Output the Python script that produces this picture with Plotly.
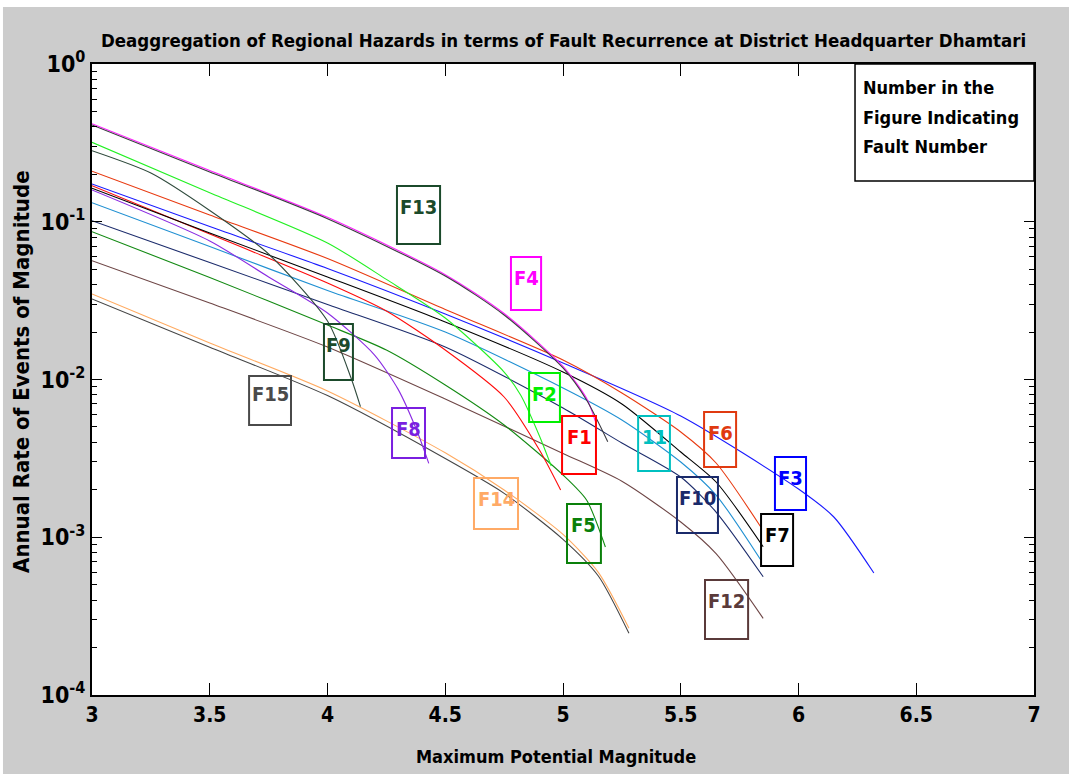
import plotly.graph_objects as go

# Magnitude samples (Mw) and annual rates of events for each fault
F1_M = [3.0, 3.5, 4.0, 4.25, 4.5, 4.75, 4.9, 4.99]
F1_R = [0.1693, 0.08361, 0.04089, 0.02718, 0.01538, 0.007746, 0.003573, 0.001993]

F2_M = [3.0, 3.5, 4.0, 4.25, 4.5, 4.75, 4.82, 4.9, 4.95]
F2_R = [0.3190, 0.1528, 0.07342, 0.04310, 0.02454, 0.01115, 0.00797, 0.004384, 0.002828]

F3_M = [3.0, 3.5, 4.0, 4.5, 5.0, 5.5, 6.0, 6.15, 6.32]
F3_R = [0.1734, 0.09317, 0.05055, 0.02602, 0.01273, 0.005869, 0.002022, 0.001344, 0.000593]

F4_M = [3.0, 3.5, 4.0, 4.5, 4.75, 5.0, 5.1, 5.14]
F4_R = [0.418, 0.2110, 0.1066, 0.0462, 0.0262, 0.0121, 0.0076, 0.0053]

F5_M = [3.0, 3.5, 4.0, 4.25, 4.5, 4.75, 5.0, 5.1, 5.18]
F5_R = [0.08648, 0.04432, 0.02215, 0.01538, 0.009228, 0.005148, 0.002481, 0.001722, 0.000867]

F6_M = [3.0, 3.5, 4.0, 4.5, 5.0, 5.25, 5.5, 5.65, 5.84]
F6_R = [0.2089, 0.1104, 0.05848, 0.02778, 0.01329, 0.008211, 0.004647, 0.002956, 0.001161]

F7_M = [3.0, 3.5, 4.0, 4.5, 5.0, 5.25, 5.5, 5.65, 5.85]
F7_R = [0.1630, 0.08484, 0.04466, 0.02315, 0.01115, 0.006993, 0.003470, 0.002240, 0.000871]

F8_M = [3.0, 3.5, 3.75, 4.0, 4.2, 4.3, 4.38, 4.43]
F8_R = [0.1590, 0.07551, 0.04466, 0.02640, 0.01429, 0.008656, 0.004715, 0.002942]

F9_M = [3.0, 3.25, 3.5, 3.75, 4.0, 4.1, 4.14]
F9_R = [0.2821, 0.2037, 0.1179, 0.06245, 0.02348, 0.01022, 0.006724]

F10_M = [3.0, 3.5, 4.0, 4.5, 5.0, 5.25, 5.5, 5.65, 5.85]
F10_R = [0.1015, 0.05515, 0.02988, 0.01607, 0.006597, 0.003958, 0.002409, 0.001445, 0.000562]

F11_M = [3.0, 3.5, 4.0, 4.5, 5.0, 5.25, 5.5, 5.65, 5.84]
F11_R = [0.1320, 0.06959, 0.03665, 0.02000, 0.008834, 0.005538, 0.002999, 0.001852, 0.000717]

F12_M = [3.0, 3.5, 4.0, 4.5, 5.0, 5.25, 5.5, 5.65, 5.85]
F12_R = [0.05663, 0.03054, 0.01607, 0.007522, 0.003400, 0.002265, 0.001249, 0.000787, 0.000306]

F13_M = [3.0, 3.5, 4.0, 4.5, 4.75, 5.0, 5.1, 5.19]
F13_R = [0.4106, 0.2070, 0.1045, 0.04530, 0.02564, 0.01183, 0.00741, 0.004033]

F14_M = [3.0, 3.5, 4.0, 4.5, 4.75, 5.0, 5.15, 5.28]
F14_R = [0.03483, 0.01703, 0.008456, 0.003430, 0.001993, 0.001042, 0.000599, 0.000265]

F15_M = [3.0, 3.5, 4.0, 4.5, 4.75, 5.0, 5.15, 5.28]
F15_R = [0.03237, 0.01600, 0.007903, 0.003152, 0.001897, 0.000970, 0.000568, 0.000246]

# Axis ticks
X_TICKS = [3, 3.5, 4, 4.5, 5, 5.5, 6, 6.5, 7]
X_TICK_TEXT = ["3", "3.5", "4", "4.5", "5", "5.5", "6", "6.5", "7"]
Y_TICKS = [1e-4, 1e-3, 1e-2, 1e-1, 1]
Y_TICK_TEXT = ["10<sup>-4</sup>", "10<sup>-3</sup>", "10<sup>-2</sup>",
               "10<sup>-1</sup>", "10<sup>0</sup>"]

# Curve styling: (magnitudes, rates, line colour)
SERIES = [
    (F15_M, F15_R, "#454545"),
    (F14_M, F14_R, "#ffaa60"),
    (F12_M, F12_R, "#6e4646"),
    (F5_M, F5_R, "#138a13"),
    (F10_M, F10_R, "#1c2c6c"),
    (F11_M, F11_R, "#2090d2"),
    (F8_M, F8_R, "#8a2be2"),
    (F1_M, F1_R, "#ff0a0a"),
    (F7_M, F7_R, "#000000"),
    (F3_M, F3_R, "#1a1aff"),
    (F6_M, F6_R, "#e83a10"),
    (F9_M, F9_R, "#2f4a3c"),
    (F2_M, F2_R, "#22f022"),
    (F4_M, F4_R, "#ff1aff"),
    (F13_M, F13_R, "#3a3a40"),
]

# Fault tags: text, colour, box extent (magnitude, log10 rate) and text height
TAG_TEXT = ["F13", "F4", "F9", "F15", "F2", "F8", "F1", "11", "F6", "F3",
            "F14", "F10", "F5", "F7", "F12"]
TAG_COLOR = ["#1b4a2b", "#ff00ff", "#1b4a2b", "#4a4a4a", "#00f000", "#7a1fe0",
             "#ff0000", "#00c0c0", "#e03a10", "#0000ff", "#ffaa66", "#1a2a6a",
             "#0a800a", "#000000", "#5a3a3a"]
TAG_X0 = [4.295, 4.779, 3.985, 3.667, 4.856, 4.274, 4.996, 5.319, 5.599, 5.900,
          4.622, 5.484, 5.017, 5.841, 5.603]
TAG_X1 = [4.478, 4.907, 4.108, 3.845, 4.987, 4.414, 5.140, 5.454, 5.735, 6.032,
          4.809, 5.658, 5.161, 5.977, 5.786]
TAG_TOP = [-0.773, -1.223, -1.648, -1.978, -1.959, -2.181, -2.231, -2.231, -2.206,
           -2.491, -2.624, -2.618, -2.789, -2.853, -3.271]
TAG_BOT = [-1.141, -1.559, -2.003, -2.288, -2.269, -2.498, -2.599, -2.580, -2.555,
           -2.827, -2.948, -2.973, -3.163, -3.182, -3.645]
TAG_TY = [-0.906, -1.357, -1.781, -2.092, -2.092, -2.314, -2.365, -2.365, -2.339,
          -2.624, -2.757, -2.751, -2.922, -2.986, -3.404]

X_RANGE = [3, 7]
Y_RANGE = [-4, 0]


def px_x(m):
    return (m - X_RANGE[0]) / (X_RANGE[1] - X_RANGE[0])


def px_y(lg):
    return (lg - Y_RANGE[0]) / (Y_RANGE[1] - Y_RANGE[0])


FONT = "DejaVu Sans Condensed, Liberation Sans Narrow, sans-serif"

fig = go.Figure()
for m, r, c in SERIES:
    fig.add_trace(go.Scatter(x=m, y=r, mode="lines",
                             line=dict(color=c, width=1.1, shape="spline",
                                       smoothing=0.7),
                             showlegend=False, hoverinfo="skip"))

shapes = []
annotations = []

# white strips along the top and left edges of the figure
shapes.append(dict(type="rect", xref="paper", yref="paper", x0=-0.2, x1=1.2,
                   y0=1.0903, y1=1.3, fillcolor="white", line=dict(width=0),
                   layer="below"))
shapes.append(dict(type="rect", xref="paper", yref="paper", x0=-0.2, x1=-0.0945,
                   y0=-0.3, y1=1.3, fillcolor="white", line=dict(width=0),
                   layer="below"))

for t, c, x0, x1, yt, yb, ty in zip(TAG_TEXT, TAG_COLOR, TAG_X0, TAG_X1,
                                     TAG_TOP, TAG_BOT, TAG_TY):
    shapes.append(dict(type="rect", xref="paper", yref="paper",
                       x0=px_x(x0), x1=px_x(x1), y0=px_y(yb), y1=px_y(yt),
                       line=dict(color=c, width=2), fillcolor="rgba(0,0,0,0)"))
    annotations.append(dict(xref="paper", yref="paper",
                            x=px_x((x0 + x1) / 2), y=px_y(ty), text=t,
                            showarrow=False, xanchor="center", yanchor="middle",
                            font=dict(size=20, color=c)))

# note box in the upper right corner
shapes.append(dict(type="rect", xref="paper", yref="paper",
                   x0=px_x(6.24), x1=1.0, y0=px_y(-0.742), y1=1.0,
                   line=dict(color="black", width=1.5), fillcolor="white"))
for txt, yy in zip(["Number in the", "Figure Indicating", "Fault Number"],
                   [0.9635, 0.916, 0.8685]):
    annotations.append(dict(xref="paper", yref="paper", x=0.8164, y=yy, text=txt,
                            showarrow=False, xanchor="left", yanchor="middle",
                            font=dict(size=18, color="black")))

# titles
annotations.append(dict(xref="paper", yref="paper", x=0.5, y=1.038,
                        text="Deaggregation of Regional Hazards in terms of Fault Recurrence at District Headquarter Dhamtari",
                        showarrow=False, xanchor="center", yanchor="middle",
                        font=dict(size=18.5, color="black")))
annotations.append(dict(xref="paper", yref="paper", x=0.4926, y=-0.098,
                        text="Maximum Potential Magnitude", showarrow=False,
                        xanchor="center", yanchor="middle",
                        font=dict(size=18, color="black")))
annotations.append(dict(xref="paper", yref="paper", x=-0.0743, y=0.512,
                        text="Annual Rate of Events of Magnitude", showarrow=False,
                        textangle=-90, xanchor="center", yanchor="middle",
                        font=dict(size=22, color="black")))

minor_vals = [k * 10 ** e for e in range(-4, 0) for k in range(2, 10)]

fig.update_layout(
    width=1069, height=774,
    margin=dict(l=92, r=35, t=64, b=79),
    paper_bgcolor="#cccccc", plot_bgcolor="white",
    font=dict(family=FONT, weight="bold", color="black"),
    shapes=shapes, annotations=annotations,
    xaxis=dict(range=X_RANGE, tickmode="array", tickvals=X_TICKS,
               ticktext=X_TICK_TEXT, ticks="inside", ticklen=12, tickwidth=1,
               tickcolor="black", showline=True, linecolor="black", linewidth=2,
               mirror="allticks", showgrid=False, zeroline=False,
               tickfont=dict(size=21)),
    yaxis=dict(type="log", range=Y_RANGE, tickmode="array", tickvals=Y_TICKS,
               ticktext=Y_TICK_TEXT, ticks="inside", ticklen=10, tickwidth=1,
               tickcolor="black", showline=True, linecolor="black", linewidth=2,
               mirror="allticks", showgrid=False, zeroline=False,
               tickfont=dict(size=23),
               minor=dict(tickmode="array", tickvals=minor_vals, ticks="inside",
                          ticklen=5, tickwidth=1, tickcolor="black",
                          showgrid=False)),
)

fig.write_html("out.html")
